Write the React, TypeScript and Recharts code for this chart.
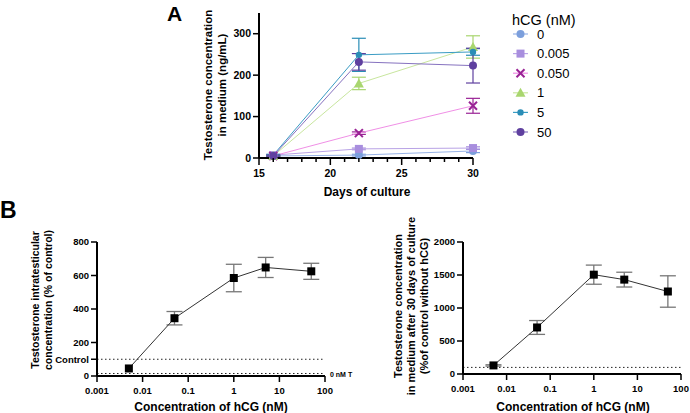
import { LineChart, Line, XAxis, YAxis, ErrorBar, ReferenceLine } from "recharts";

const FONT = "'Liberation Sans', Arial, Helvetica, sans-serif";

// ---- panel A: testosterone in medium over time ----
const days = [16, 22, 30];
const dayTicks = [15, 16, 17, 18, 19, 20, 21, 22, 23, 24, 25, 26, 27, 28, 29, 30];
const hcg0 = [5, 7, 17];
const hcg0Err = [2, 2, 4];
const hcg0005 = [7, 22, 24];
const hcg0005Err = [1, 2, 3];
const hcg005 = [5, 60, 126];
const hcg005Err = [1, 3, 18];
const hcg1 = [5, 180, 268];
const hcg1Err = [2, 15, 27];
const hcg5 = [7, 249, 256];
const hcg5Err = [2, 40, 8];
const hcg50 = [5, 232, 223];
const hcg50Err = [2, 20, 42];

// ---- panel B: dose response ----
const hcgConc = [0.005, 0.05, 1, 5, 50];
const logTicks = [0.001, 0.01, 0.1, 1, 10, 100];
const intraT = [45, 345, 585, 648, 625];
const intraTErr = [0, 40, 82, 60, 48];
const mediumT = [130, 705, 1505, 1430, 1250];
const mediumTErr = [10, 105, 145, 112, 238];
const controlLevel = 100;
const zeroNmLevel = 15;

const SERIES = [
  { key: "c0", name: "0", values: hcg0, err: hcg0Err, color: "#7c9fdc", line: "#98b3e6", shape: "circle" },
  { key: "c1", name: "0.005", values: hcg0005, err: hcg0005Err, color: "#a88ede", line: "#b9a3e6", shape: "square" },
  { key: "c2", name: "0.050", values: hcg005, err: hcg005Err, color: "#9a2295", line: "#f08fe6", shape: "x" },
  { key: "c3", name: "1", values: hcg1, err: hcg1Err, color: "#a9d66f", line: "#c8e69e", shape: "triangle" },
  { key: "c4", name: "5", values: hcg5, err: hcg5Err, color: "#2a8db6", line: "#3a9cc4", shape: "small" },
  { key: "c5", name: "50", values: hcg50, err: hcg50Err, color: "#5f409f", line: "#8672bf", shape: "circle" },
];

const rowsA = days.map((d, i) => {
  const row: any = { day: d };
  SERIES.forEach((s) => {
    row[s.key] = s.values[i];
    row[s.key + "e"] = s.err[i];
  });
  return row;
});

const rowsIntra = hcgConc.map((c, i) => ({ conc: c, v: intraT[i], e: intraTErr[i] }));
const rowsMedium = hcgConc.map((c, i) => ({ conc: c, v: mediumT[i], e: mediumTErr[i] }));

function Marker({ shape, cx, cy, color }: any) {
  if (cx == null || cy == null) return null;
  switch (shape) {
    case "square":
      return <rect x={cx - 4} y={cy - 4} width={8} height={8} fill={color} />;
    case "x":
      return (
        <path
          d={`M${cx - 4},${cy - 4}L${cx + 4},${cy + 4}M${cx + 4},${cy - 4}L${cx - 4},${cy + 4}`}
          stroke={color}
          strokeWidth={2}
        />
      );
    case "triangle":
      return <path d={`M${cx},${cy - 5}L${cx + 5},${cy + 4}L${cx - 5},${cy + 4}Z`} fill={color} />;
    case "small":
      return <circle cx={cx} cy={cy} r={3.2} fill={color} />;
    default:
      return <circle cx={cx} cy={cy} r={4} fill={color} />;
  }
}

const DayTick = ({ x, y, payload }: any) => {
  const major = payload.value % 5 === 0;
  return (
    <g>
      <line x1={x} x2={x} y1={y} y2={y + (major ? 7 : 4)} stroke="#000" strokeWidth={1.5} />
      {major && (
        <text x={x} y={y + 19} textAnchor="middle" fontSize={10.5} fontWeight="bold" fill="#000" fontFamily={FONT}>
          {payload.value}
        </text>
      )}
    </g>
  );
};

const tickStyleA = { fontSize: 10.5, fontWeight: "bold", fill: "#000", fontFamily: FONT };
const tickStyleB = { fontSize: 9.5, fontWeight: "bold", fill: "#000", fontFamily: FONT };
const axisStroke = { stroke: "#000", strokeWidth: 2 };
const tickStroke = { stroke: "#000", strokeWidth: 1.5 };

function VText({ x, y, children, size = 11.5 }: any) {
  return (
    <text
      transform={`translate(${x},${y}) rotate(-90)`}
      textAnchor="middle"
      dominantBaseline="central"
      fontSize={size}
      fontWeight="bold"
      fontFamily={FONT}
      fill="#000"
    >
      {children}
    </text>
  );
}

function HText({ x, y, children, size = 12, anchor = "middle", weight = "bold" }: any) {
  return (
    <text
      x={x}
      y={y}
      textAnchor={anchor}
      dominantBaseline="central"
      fontSize={size}
      fontWeight={weight}
      fontFamily={FONT}
      fill="#000"
    >
      {children}
    </text>
  );
}

function DoseChart({ data, yMax, yTicks, fmt, refLines, margin, width }: any) {
  return (
    <LineChart width={width} height={213} data={data} margin={margin}>
      <XAxis
        type="number"
        dataKey="conc"
        scale="log"
        domain={[0.001, 100]}
        ticks={logTicks}
        interval={0}
        allowDataOverflow
        height={20}
        tick={tickStyleB}
        tickSize={6}
        tickMargin={5}
        axisLine={axisStroke}
        tickLine={tickStroke}
        tickFormatter={(v: number) => String(v)}
      />
      <YAxis
        type="number"
        domain={[0, yMax]}
        ticks={yTicks}
        interval={0}
        width={45}
        tick={tickStyleB}
        tickSize={6}
        tickMargin={2}
        axisLine={axisStroke}
        tickLine={tickStroke}
        tickFormatter={fmt}
      />
      {refLines.map((r: number) => (
        <ReferenceLine key={r} y={r} stroke="#222" strokeWidth={1} strokeDasharray="1.5 2.5" />
      ))}
      <Line
        dataKey="v"
        stroke="#333"
        strokeWidth={1}
        isAnimationActive={false}
        dot={(p: any) => <Marker key={p.index} shape="square" cx={p.cx} cy={p.cy} color="#000" />}
      >
        <ErrorBar dataKey="e" width={8} stroke="#777" strokeWidth={1.3} direction="y" />
      </Line>
    </LineChart>
  );
}

export default function App() {
  return (
    <div style={{ position: "absolute", left: 0, top: 0, width: 690, height: 413, background: "#fff", fontFamily: FONT }}>
      <div style={{ position: "absolute", left: 150, top: 0 }}>
        <LineChart width={340} height={200} data={rowsA} margin={{ top: 13, right: 17, bottom: 12, left: 69 }}>
          <XAxis
            type="number"
            dataKey="day"
            domain={[15, 30]}
            ticks={dayTicks}
            interval={0}
            height={30}
            tickSize={0}
            tickMargin={0}
            tickLine={false}
            axisLine={axisStroke}
            tick={<DayTick />}
          />
          <YAxis
            type="number"
            domain={[0, 350]}
            ticks={[0, 100, 200, 300]}
            interval={0}
            width={40}
            tick={tickStyleA}
            tickSize={6}
            tickMargin={2}
            axisLine={axisStroke}
            tickLine={tickStroke}
          />
          {SERIES.map((s) => (
            <Line
              key={s.key}
              dataKey={s.key}
              stroke={s.line}
              strokeWidth={1}
              isAnimationActive={false}
              dot={(p: any) => <Marker key={s.key + p.index} shape={s.shape} cx={p.cx} cy={p.cy} color={s.color} />}
            >
              <ErrorBar dataKey={s.key + "e"} width={7} stroke={s.color} strokeWidth={1.2} direction="y" />
            </Line>
          ))}
        </LineChart>
      </div>

      <div style={{ position: "absolute", left: 0, top: 200 }}>
        <DoseChart
          width={360}
          data={rowsIntra}
          yMax={800}
          yTicks={[0, controlLevel, 200, 400, 600, 800]}
          fmt={(v: number) => (v === controlLevel ? "Control" : String(v))}
          refLines={[controlLevel, zeroNmLevel]}
          margin={{ top: 42, right: 35, bottom: 17, left: 52 }}
        />
      </div>

      <div style={{ position: "absolute", left: 345, top: 200 }}>
        <DoseChart
          width={345}
          data={rowsMedium}
          yMax={2000}
          yTicks={[0, 500, 1000, 1500, 2000]}
          fmt={(v: number) => String(v)}
          refLines={[controlLevel]}
          margin={{ top: 42, right: 9, bottom: 19, left: 73 }}
        />
      </div>

      <svg width={690} height={413} style={{ position: "absolute", left: 0, top: 0, pointerEvents: "none" }}>
        <HText x={167} y={13} size={21} anchor="start">A</HText>
        <HText x={0} y={210} size={23} anchor="start">B</HText>

        <VText x={208} y={85}>Testosterone concentration</VText>
        <VText x={222} y={85}>in medium (ng/mL)</VText>
        <HText x={367} y={192}>Days of culture</HText>

        <HText x={512} y={20} size={14.5} anchor="start" weight="normal">hCG (nM)</HText>
        {SERIES.map((s, i) => {
          const y = 34 + i * 19.6;
          return (
            <g key={s.key}>
              <line x1={513} x2={528} y1={y} y2={y} stroke={s.line} strokeWidth={1.2} />
              <Marker shape={s.shape} cx={520.5} cy={y} color={s.color} />
              <HText x={537} y={y} size={13} anchor="start" weight="normal">{s.name}</HText>
            </g>
          );
        })}

        <VText x={35} y={300} size={10.5}>Testosterone intratesticular</VText>
        <VText x={48} y={300} size={10.5}>concentration (% of control)</VText>
        <HText x={211} y={407}>Concentration of hCG (nM)</HText>
        <HText x={330} y={374} size={7} anchor="start">0 nM T</HText>

        <VText x={398} y={306} size={11}>Testosterone concentration</VText>
        <VText x={411} y={306} size={11}>in medium after 30 days of culture</VText>
        <VText x={424} y={306} size={11}>(%of control without hCG)</VText>
        <HText x={573} y={407}>Concentration of hCG (nM)</HText>
      </svg>
    </div>
  );
}
